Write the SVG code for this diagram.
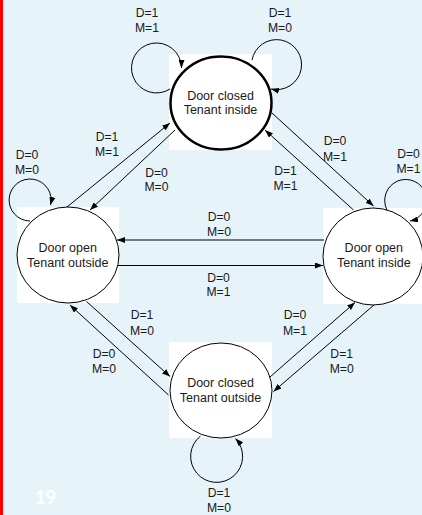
<svg xmlns="http://www.w3.org/2000/svg" width="422" height="515" viewBox="0 0 422 515">
<style>
.bg{fill:#E6F4FA}
.nb{fill:#FFFFFF}
.st{fill:#FFFFFF;stroke:#000;stroke-width:1}
.init{stroke-width:2.5}
.nt{font-family:"Liberation Sans",Arial,sans-serif;font-size:12.5px;fill:#1a1a1a;text-anchor:middle}
.lb{font-family:"Liberation Sans",Arial,sans-serif;font-size:12.2px;fill:#1a1a1a;text-anchor:middle}
.cn{fill:none;stroke:#000;stroke-width:1;marker-end:url(#ah)}
</style>
<defs>
<marker id="ah" markerUnits="userSpaceOnUse" markerWidth="8" markerHeight="6" refX="8" refY="3" orient="auto">
<path d="M0,0 L8,3 L0,6 z" fill="#000"/>
</marker>
</defs>
<rect class="bg" x="0" y="0" width="422" height="515"/>
<rect x="0" y="0" width="3" height="515" fill="#FF0000"/>
<text x="45.5" y="504" font-family="Lato,'Open Sans',sans-serif" font-size="18.5" font-weight="bold" fill="#FFFFFF" text-anchor="middle">19</text>

<g id="node-closed-inside">
<rect class="nb" x="169" y="54" width="103" height="96"/>
<ellipse class="st init" cx="221" cy="103" rx="50.5" ry="46.5"/>
<text class="nt" x="220.5" y="99.5">Door closed</text>
<text class="nt" x="220.5" y="114">Tenant inside</text>
</g>
<g id="node-open-outside">
<rect class="nb" x="17" y="207" width="102" height="96"/>
<ellipse class="st" cx="68" cy="255" rx="51" ry="48"/>
<text class="nt" x="67.7" y="252">Door open</text>
<text class="nt" x="67.7" y="267">Tenant outside</text>
</g>
<g id="node-open-inside">
<rect class="nb" x="323" y="208" width="99" height="96"/>
<ellipse class="st" cx="373" cy="256.5" rx="50" ry="48.5"/>
<text class="nt" x="373.8" y="252">Door open</text>
<text class="nt" x="373.8" y="267">Tenant inside</text>
</g>
<g id="node-closed-outside">
<rect class="nb" x="169" y="342" width="103" height="96"/>
<ellipse class="st" cx="221" cy="390.5" rx="51" ry="47.5"/>
<text class="nt" x="220.5" y="387.3">Door closed</text>
<text class="nt" x="220.5" y="402">Tenant outside</text>
</g>

<g id="connectors">
<path class="cn" d="M170,89 A25,25 0 1 1 181.5,68"/>
<path class="cn" d="M252,60 A25,25 0 1 1 271,89"/>
<path class="cn" d="M30,221 A21,21 0 1 1 50.5,205"/>
<path class="cn" d="M387,210 A21,21 0 1 1 410,221"/>
<path class="cn" d="M200.5,436 A26,26 0 1 0 235.5,438.5"/>
<line class="cn" x1="67" y1="207" x2="170" y2="123"/>
<line class="cn" x1="175" y1="130" x2="90" y2="210"/>
<line class="cn" x1="272" y1="113" x2="373.5" y2="206"/>
<line class="cn" x1="353.5" y1="210" x2="265" y2="130"/>
<line class="cn" x1="324" y1="240" x2="117" y2="240"/>
<line class="cn" x1="118" y1="265.5" x2="323" y2="265.5"/>
<line class="cn" x1="86.5" y1="301.5" x2="170" y2="376.5"/>
<line class="cn" x1="168.5" y1="395" x2="70" y2="305"/>
<line class="cn" x1="270" y1="377" x2="355" y2="302.5"/>
<line class="cn" x1="374" y1="305" x2="273.5" y2="391.5"/>
</g>

<g id="labels">
<text class="lb" x="147" y="17">D=1</text><text class="lb" x="147" y="32">M=1</text>
<text class="lb" x="280" y="17">D=1</text><text class="lb" x="280" y="32">M=0</text>
<text class="lb" x="27" y="159">D=0</text><text class="lb" x="27" y="174">M=0</text>
<text class="lb" x="107" y="141">D=1</text><text class="lb" x="107" y="155.5">M=1</text>
<text class="lb" x="156.5" y="176.5">D=0</text><text class="lb" x="156.5" y="190.5">M=0</text>
<text class="lb" x="335" y="145">D=0</text><text class="lb" x="335" y="160.5">M=1</text>
<text class="lb" x="285.5" y="175">D=1</text><text class="lb" x="285.5" y="189.5">M=1</text>
<text class="lb" x="408.5" y="158">D=0</text><text class="lb" x="408.5" y="173">M=1</text>
<text class="lb" x="219" y="220.5">D=0</text><text class="lb" x="219" y="236">M=0</text>
<text class="lb" x="218.5" y="281.5">D=0</text><text class="lb" x="218.5" y="296">M=1</text>
<text class="lb" x="142" y="319">D=1</text><text class="lb" x="142" y="334.5">M=0</text>
<text class="lb" x="104" y="358">D=0</text><text class="lb" x="104" y="373">M=0</text>
<text class="lb" x="295" y="319.3">D=0</text><text class="lb" x="295" y="335">M=1</text>
<text class="lb" x="341.7" y="358.3">D=1</text><text class="lb" x="341.7" y="373.3">M=0</text>
<text class="lb" x="219" y="496.7">D=1</text><text class="lb" x="219" y="512">M=0</text>
</g>
</svg>
